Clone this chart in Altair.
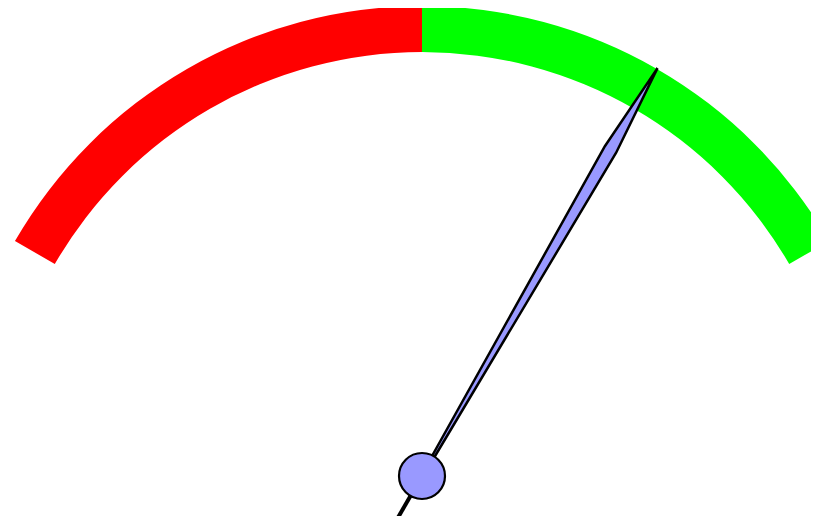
import math
import altair as alt
import pandas as pd

# ---- data ----
band_start = [0, 50]
band_end = [50, 100]
band_name = ["low", "high"]
band_color = ["#ff0000", "#00ff00"]
gauge_min = 0
gauge_max = 100
needle_value = 75

# ---- style / layout ----
W, H = 803, 508
CX, CY = 414, 468          # gauge centre inside the chart
R_OUT, R_IN = 470, 424     # band radii
HALF_SWEEP = math.pi / 3   # gauge spans -60deg .. +60deg
NEEDLE_ALONG = [0, 377, 471, 377, 0, 0]
NEEDLE_PERP = [-1, -6.5, 0, 6.5, 1, -1]
TAIL_ALONG = [0, -48]
TAIL_PERP = [0, 0]
NEEDLE_FILL = "#9999ff"

xs = alt.Scale(domain=[-CX, W - CX], nice=False, zero=False)
ys = alt.Scale(domain=[CY - H, CY], nice=False, zero=False)
X0 = alt.XDatum(0, type="quantitative", scale=xs, axis=None)
Y0 = alt.YDatum(0, type="quantitative", scale=ys, axis=None)

bands = pd.DataFrame({"start": band_start, "end": band_end, "name": band_name})

arcs = alt.Chart(bands).mark_arc(radius=R_OUT, radius2=R_IN).encode(
    x=X0,
    y=Y0,
    theta=alt.Theta("start:Q", stack=None,
                    scale=alt.Scale(domain=[gauge_min, gauge_max],
                                    range=[-HALF_SWEEP, HALF_SWEEP])),
    theta2=alt.Theta2("end:Q"),
    color=alt.Color("name:N", scale=alt.Scale(domain=band_name, range=band_color),
                    legend=None),
)

ang_expr = (f"(datum.value - {gauge_min}) / ({gauge_max} - {gauge_min}) * {2 * HALF_SWEEP}"
            f" - {HALF_SWEEP}")


def needle_part(along, perp):
    df = pd.DataFrame({"i": list(range(len(along))), "along": along, "perp": perp,
                       "value": [needle_value] * len(along)})
    return alt.Chart(df).transform_calculate(
        ang=ang_expr
    ).transform_calculate(
        px="datum.along * sin(datum.ang) + datum.perp * cos(datum.ang)",
        py="datum.along * cos(datum.ang) - datum.perp * sin(datum.ang)",
    )


tail = needle_part(TAIL_ALONG, TAIL_PERP).mark_line(
    color="black", strokeWidth=4, strokeCap="butt"
).encode(
    x=alt.X("px:Q", scale=xs, axis=None),
    y=alt.Y("py:Q", scale=ys, axis=None),
    order="i:O",
)

needle = needle_part(NEEDLE_ALONG, NEEDLE_PERP).mark_line(
    fill=NEEDLE_FILL, stroke="black", strokeWidth=2.5, strokeJoin="miter"
).encode(
    x=alt.X("px:Q", scale=xs, axis=None),
    y=alt.Y("py:Q", scale=ys, axis=None),
    order="i:O",
)

hub = alt.Chart(pd.DataFrame({"value": [needle_value]})).mark_point(
    shape="circle", size=2116, filled=True, fill=NEEDLE_FILL, stroke="black",
    strokeWidth=2.2, opacity=1
).encode(x=X0, y=Y0)

chart = alt.layer(arcs, tail, needle, hub).properties(
    width=W, height=H, padding=0, autosize=alt.AutoSizeParams(type="none")
).configure_view(stroke=None)

chart.save("out.html", embed_options={"renderer": "svg", "actions": False})
